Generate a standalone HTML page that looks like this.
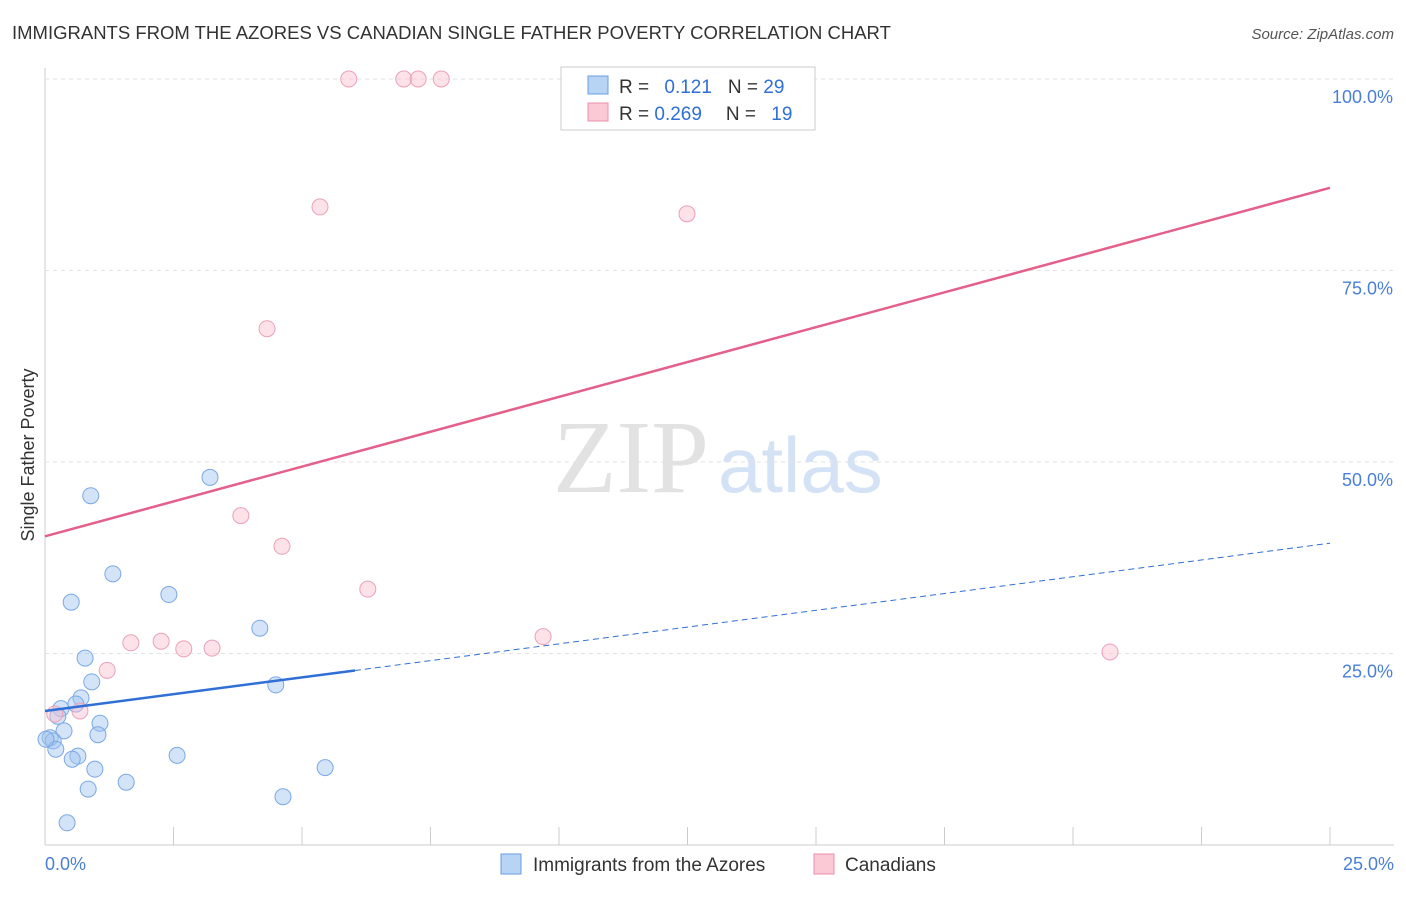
<!DOCTYPE html>
<html><head><meta charset="utf-8"><style>
body{margin:0;background:#fff;font-family:"Liberation Sans",sans-serif}
svg text{font-family:"Liberation Sans",sans-serif}
</style></head><body>
<svg id="c" width="1406" height="892">
<text x="12" y="39" font-size="18.5" fill="#333">IMMIGRANTS FROM THE AZORES VS CANADIAN SINGLE FATHER POVERTY CORRELATION CHART</text>
<text x="1394" y="39" font-size="15" fill="#555" font-style="italic" text-anchor="end">Source: ZipAtlas.com</text>
<text x="34" y="455" font-size="18" fill="#333" transform="rotate(-90 34 455)" text-anchor="middle">Single Father Poverty</text>
<text x="553" y="492" font-size="104" fill="#e2e2e2" style="font-family:'Liberation Serif',serif">ZIP</text>
<text x="718" y="492" font-size="78" fill="#d4e2f5">atlas</text>
<g id="grid"></g><g id="marks"></g>
<g>
<rect x="561" y="67" width="254" height="63" fill="#fff" stroke="#ccc"/>
<rect x="588" y="76" width="20" height="18" fill="#b8d4f5" stroke="#6a9de0"/>
<rect x="588" y="103" width="20" height="18" fill="#fbc8d6" stroke="#e890aa"/>
<text x="619" y="93" font-size="19" fill="#333">R = <tspan fill="#2f6fd6" dx="10">0.121</tspan><tspan dx="16" fill="#333">N = </tspan><tspan fill="#2f6fd6">29</tspan></text>
<text x="619" y="120" font-size="19" fill="#333">R = <tspan fill="#2f6fd6">0.269</tspan><tspan dx="24" fill="#333">N = </tspan><tspan fill="#2f6fd6" dx="10">19</tspan></text>
</g>
<g>
<rect x="501" y="854" width="20" height="20" fill="#b8d4f5" stroke="#6a9de0"/>
<text x="533" y="871" font-size="19" fill="#333">Immigrants from the Azores</text>
<rect x="814" y="854" width="20" height="20" fill="#fbc8d6" stroke="#e890aa"/>
<text x="845" y="871" font-size="19" fill="#333">Canadians</text>
</g>
</svg>
<script>
const xTicksLabels=["0.0%","25.0%"];
const yTickValues=[25,50,75,100];
const blueX=[0.89,3.21,1.32,0.51,2.41,4.18,0.78,0.91,4.49,0.70,0.60,0.31,0.25,1.07,0.37,1.03,0.10,0.16,0.21,0.64,2.57,0.53,0.97,5.45,1.58,0.84,4.63,0.43,0.02];
const blueY=[45.6,48.0,35.4,31.7,32.7,28.3,24.4,21.3,20.9,19.2,18.4,17.8,16.8,15.9,14.9,14.4,14.0,13.6,12.5,11.6,11.7,11.2,9.9,10.1,8.2,7.3,6.3,2.9,13.8];
const pinkX=[5.91,6.98,7.26,7.71,5.35,12.49,4.32,3.81,4.61,6.28,9.69,1.67,2.26,2.70,3.25,20.72,1.21,0.68,0.19];
const pinkY=[100,100,100,100,83.3,82.4,67.4,43.0,39.0,33.4,27.2,26.4,26.6,25.6,25.7,25.2,22.8,17.5,17.1];
const blueTrend=[17.5,39.4], pinkTrend=[40.3,85.8];
const sx=v=>45+v/25*1285, sy=v=>845-v/100*766;
const NS="http://www.w3.org/2000/svg";
function mk(t,a,p){const e=document.createElementNS(NS,t);for(const k in a)e.setAttribute(k,a[k]);p.appendChild(e);return e;}
const g=document.getElementById('grid'), m=document.getElementById('marks');
mk('line',{x1:45,y1:68,x2:45,y2:845,stroke:'#ccc'},g);
mk('line',{x1:45,y1:845,x2:1394,y2:845,stroke:'#ccc'},g);
for(let i=1;i<=10;i++){const l=mk('line',{x1:sx(i*2.5),y1:827,x2:sx(i*2.5),y2:845,stroke:'#ccc'},g);

}
yTickValues.forEach(v=>{const l=mk('line',{x1:45,y1:sy(v),x2:1394,y2:sy(v),stroke:'#e2e2e2','stroke-dasharray':'4,4'},g);


const t=mk('text',{x:1393,y:sy(v)+24,'font-size':18,fill:'#4a7fd8','text-anchor':'end'},g);t.textContent=v.toFixed(1)+'%';

});
[[0,45,'start'],[25,1394,'end']].forEach(([v,x,a],i)=>{const t=mk('text',{x:x,y:870,'font-size':18,fill:'#4a7fd8','text-anchor':a},g);t.textContent=xTicksLabels[i];

});
blueX.forEach((x,i)=>{const c=mk('circle',{cx:sx(x),cy:sy(blueY[i]),r:8,fill:'rgba(160,196,240,0.45)',stroke:'#7aa8e6','stroke-width':1},m);

});
pinkX.forEach((x,i)=>{const c=mk('circle',{cx:sx(x),cy:sy(pinkY[i]),r:8,fill:'rgba(250,190,208,0.45)',stroke:'#eda0b8','stroke-width':1},m);

});
const by=x=>blueTrend[0]+(blueTrend[1]-blueTrend[0])*x/25;
let l=mk('line',{x1:sx(0),y1:sy(by(0)),x2:sx(6.03),y2:sy(by(6.03)),stroke:'#2f6fd6','stroke-width':2.5},m);


l=mk('line',{x1:sx(6.03),y1:sy(by(6.03)),x2:sx(25),y2:sy(by(25)),stroke:'#2f6fd6','stroke-width':1,'stroke-dasharray':'6,4'},m);


l=mk('line',{x1:sx(0),y1:sy(pinkTrend[0]),x2:sx(25),y2:sy(pinkTrend[1]),stroke:'#e4608a','stroke-width':2.5},m);


</script>
</body></html>
